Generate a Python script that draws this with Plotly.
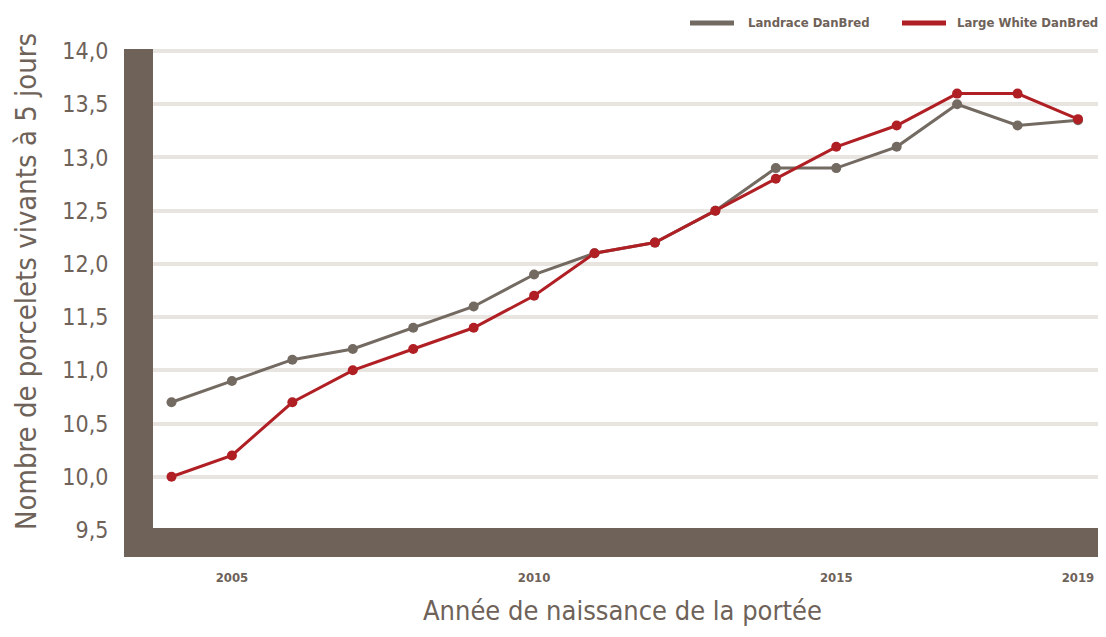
import plotly.graph_objects as go

years = list(range(2004, 2020))
landrace = [10.7, 10.9, 11.1, 11.2, 11.4, 11.6, 11.9, 12.1, 12.2, 12.5, 12.9, 12.9, 13.1, 13.5, 13.3, 13.35]
large_white = [10.0, 10.2, 10.7, 11.0, 11.2, 11.4, 11.7, 12.1, 12.2, 12.5, 12.8, 13.1, 13.3, 13.6, 13.6, 13.36]
y_ticks = [9.5, 10.0, 10.5, 11.0, 11.5, 12.0, 12.5, 13.0, 13.5, 14.0]
y_ticktext = ["9,5", "10,0", "10,5", "11,0", "11,5", "12,0", "12,5", "13,0", "13,5", "14,0"]
x_ticks = [2005, 2010, 2015, 2019]
series_names = ["Landrace DanBred", "Large White DanBred"]

BROWN = "#6e6259"
GRAY = "#736a62"
RED = "#b01f24"
GRID = "#e8e4e0"
FONT = "Liberation Sans Narrow, DejaVu Sans Condensed, sans-serif"

fig = go.Figure()
fig.add_trace(go.Scatter(x=years, y=landrace, mode="lines+markers", name=series_names[0],
                         line=dict(color=GRAY, width=3), marker=dict(size=10, color=GRAY),
                         showlegend=False))
fig.add_trace(go.Scatter(x=years, y=large_white, mode="lines+markers", name=series_names[1],
                         line=dict(color=RED, width=3), marker=dict(size=10, color=RED),
                         showlegend=False))

OFF = 8  # page body margin
W, H = 1106 - 2 * OFF, 637 - 2 * OFF
px_left, px_right, px_top, px_bot = 124, 1105, 49, 557  # window coords of plot area
px_right = min(px_right, OFF + W)
L = px_left - OFF
R = W - (px_right - OFF)
T = px_top - OFF
B = H - (px_bot - OFF)
pw = W - L - R
ph = H - T - B


def xp(px):
    return (px - px_left) / pw


def yp(py):
    return (px_bot - py) / ph


fig.update_layout(
    width=W, height=H,
    margin=dict(l=L, r=R, t=T, b=B),
    paper_bgcolor="white", plot_bgcolor="white",
    font=dict(family=FONT, color=BROWN),
    showlegend=False,
    xaxis=dict(range=[2003.214, 2019.447 - (1105 - px_right) / 60.43], tickvals=x_ticks,
               showgrid=False, zeroline=False,
               ticks="outside", ticklen=8, tickcolor="rgba(0,0,0,0)",
               tickfont=dict(size=13, color=BROWN, weight="bold"), showline=False),
    yaxis=dict(range=[9.246, 14.019], tickvals=y_ticks, ticktext=y_ticktext,
               showgrid=True, gridcolor=GRID, gridwidth=4, zeroline=False,
               ticks="outside", ticklen=10, tickcolor="rgba(0,0,0,0)",
               tickfont=dict(size=23, color=BROWN), showline=False),
)

# thick frame bars (left and bottom)
fig.add_shape(type="rect", xref="paper", yref="paper", x0=0, x1=xp(153), y0=0, y1=1,
              fillcolor=BROWN, line_width=0, layer="above")
fig.add_shape(type="rect", xref="paper", yref="paper", x0=0, x1=1, y0=0, y1=yp(528),
              fillcolor=BROWN, line_width=0, layer="above")

# legend (drawn manually)
for name, color, lx0, tx in [(series_names[0], GRAY, 690, 746), (series_names[1], RED, 902, 955)]:
    fig.add_shape(type="line", xref="paper", yref="paper", x0=xp(lx0), x1=xp(lx0 + 44),
                  y0=yp(23), y1=yp(23), line=dict(color=color, width=5))
    fig.add_annotation(text=name, xref="paper", yref="paper", x=xp(tx), y=yp(22),
                       xanchor="left", yanchor="middle", showarrow=False,
                       font=dict(size=13, color=BROWN, weight="bold"))

fig.add_annotation(text="Année de naissance de la portée", xref="paper", yref="paper",
                   x=xp(622), y=yp(610), xanchor="center", yanchor="middle",
                   showarrow=False, font=dict(size=27, color=BROWN))
fig.add_annotation(text="Nombre de porcelets vivants à 5 jours", xref="paper", yref="paper",
                   x=xp(26), y=yp(282), xanchor="center", yanchor="middle",
                   textangle=-90, showarrow=False, font=dict(size=29, color=BROWN))

fig.write_html("out.html")
